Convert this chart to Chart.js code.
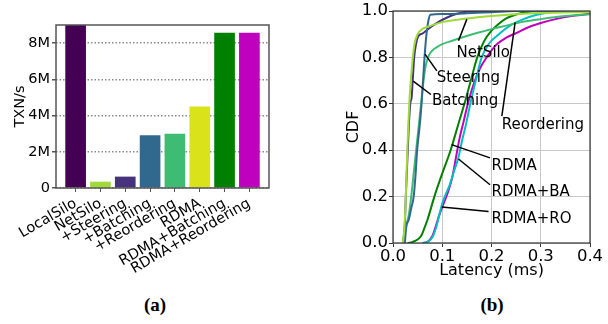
<!DOCTYPE html>
<html><head><meta charset="utf-8">
<script src="https://cdn.jsdelivr.net/npm/chart.js@4.4.0/dist/chart.umd.min.js"></script>
<style>
body{margin:0;background:#fff;width:608px;height:324px;position:relative;overflow:hidden}
#wa{position:absolute;left:0;top:0;width:300px;height:290px}
#wb{position:absolute;left:300px;top:0;width:308px;height:290px}
.cap{position:absolute;top:294px;font:bold 19px "Liberation Serif","DejaVu Serif",serif;color:#000;width:40px;text-align:center}
</style></head>
<body>
<div id="wa"><canvas id="ca" width="300" height="290"></canvas></div>
<div id="wb"><canvas id="cb" width="308" height="290"></canvas></div>
<div class="cap" style="left:135px">(a)</div>
<div class="cap" style="left:472px">(b)</div>
<script>
// ---- (a) throughput bars ----
const barCategories = ['LocalSilo','NetSilo','+Steering','+Batching','+Reordering','RDMA','RDMA+Batching','RDMA+Reordering'];
const barValues = [9.2e6, 0.33e6, 0.61e6, 2.9e6, 2.98e6, 4.48e6, 8.55e6, 8.55e6];
const barColors = ['#440154','#a0da39','#46337e','#31688e','#3fbc73','#dae319','#008000','#bf00bf'];
const yTicksA = [0, 2e6, 4e6, 6e6, 8e6];
const yTickLabelsA = ['0','2M','4M','6M','8M'];

// ---- (b) latency CDFs: [latency ms, cdf] ----
const cdfNetSilo = [[0.020,0],[0.023,0.06],[0.026,0.2],[0.029,0.4],[0.033,0.6],[0.038,0.75],[0.043,0.85],[0.05,0.9],[0.058,0.92],[0.075,0.935],[0.1,0.952],[0.13,0.962],[0.16,0.97],[0.2,0.978],[0.25,0.986],[0.3,0.991],[0.4,0.996]];
const cdfBatching = [[0.021,0],[0.024,0.08],[0.026,0.2],[0.029,0.35],[0.032,0.5],[0.035,0.6],[0.038,0.63],[0.04,0.7],[0.043,0.8],[0.047,0.86],[0.051,0.89],[0.06,0.903],[0.075,0.928],[0.09,0.95],[0.11,0.972],[0.13,0.988],[0.15,0.997],[0.2,1.0],[0.4,1.0]];
const cdfSteering = [[0.024,0],[0.027,0.07],[0.032,0.1],[0.037,0.15],[0.042,0.2],[0.046,0.3],[0.049,0.4],[0.054,0.5],[0.058,0.6],[0.061,0.7],[0.064,0.8],[0.068,0.9],[0.072,0.96],[0.076,0.984],[0.1,0.987],[0.15,0.99],[0.2,0.995],[0.25,1.0],[0.4,1.0]];
const cdfReordering = [[0.02,0],[0.023,0.05],[0.027,0.08],[0.032,0.12],[0.037,0.2],[0.042,0.3],[0.047,0.4],[0.052,0.5],[0.057,0.6],[0.062,0.7],[0.067,0.77],[0.073,0.81],[0.08,0.83],[0.09,0.845],[0.1,0.857],[0.12,0.872],[0.143,0.888],[0.17,0.905],[0.2,0.922],[0.23,0.937],[0.26,0.952],[0.3,0.965],[0.35,0.978],[0.4,0.986]];
const cdfRDMA = [[0.03,0],[0.04,0.005],[0.05,0.015],[0.057,0.03],[0.063,0.06],[0.07,0.1],[0.084,0.2],[0.1,0.3],[0.117,0.4],[0.131,0.5],[0.145,0.6],[0.158,0.7],[0.171,0.8],[0.185,0.87],[0.2,0.915],[0.215,0.945],[0.23,0.968],[0.25,0.985],[0.27,0.995],[0.29,1.0],[0.4,1.0]];
const cdfRDMABA = [[0.06,0],[0.07,0.005],[0.08,0.025],[0.088,0.07],[0.095,0.13],[0.1,0.17],[0.107,0.21],[0.115,0.25],[0.124,0.31],[0.133,0.37],[0.14,0.44],[0.147,0.5],[0.157,0.6],[0.168,0.7],[0.18,0.8],[0.195,0.86],[0.215,0.9],[0.24,0.94],[0.265,0.965],[0.29,0.983],[0.32,0.995],[0.35,1.0],[0.4,1.0]];
const cdfRDMARO = [[0.06,0],[0.07,0.005],[0.08,0.03],[0.088,0.08],[0.094,0.12],[0.1,0.155],[0.11,0.21],[0.12,0.28],[0.128,0.37],[0.135,0.45],[0.143,0.52],[0.152,0.6],[0.163,0.68],[0.176,0.75],[0.19,0.8],[0.21,0.855],[0.23,0.885],[0.25,0.905],[0.275,0.93],[0.3,0.948],[0.33,0.965],[0.366,0.979],[0.4,0.988]];
const cdfSeries = [cdfNetSilo, cdfSteering, cdfBatching, cdfReordering, cdfRDMA, cdfRDMABA, cdfRDMARO];
const cdfNames = ['NetSilo','Steering','Batching','Reordering','RDMA','RDMA+BA','RDMA+RO'];
const cdfColors = ['#a0da39','#31688e','#46337e','#3fbc73','#008000','#00bfbf','#bf00bf'];
const xTicksB = [0, 0.1, 0.2, 0.3, 0.4];
const yTicksB = [0, 0.2, 0.4, 0.6, 0.8, 1.0];

// annotation labels (data coords) and pointer segments
const noteText = ['NetSilo','Steering','Batching','Reordering','RDMA','RDMA+BA','RDMA+RO'];
const noteX = [0.129, 0.089, 0.079, 0.221, 0.2, 0.2, 0.2];
const noteY = [0.818, 0.71, 0.613, 0.506, 0.333, 0.219, 0.104];
const ptrFromX = [0.133, 0.065, 0.041, 0.221, 0.119, 0.133, 0.099];
const ptrFromY = [0.872, 0.814, 0.698, 0.547, 0.424, 0.362, 0.155];
const ptrToX = [0.15, 0.089, 0.077, 0.248, 0.197, 0.197, 0.194];
const ptrToY = [0.965, 0.742, 0.64, 0.951, 0.367, 0.251, 0.136];

Chart.defaults.font.family = '"DejaVu Sans", sans-serif';
Chart.defaults.font.size = 14;
Chart.defaults.color = '#000';

function framePlugin(color, width) {
  return { id: 'frame', afterDatasetsDraw(chart) {
    const a = chart.chartArea, c = chart.ctx;
    c.save(); c.strokeStyle = color; c.lineWidth = width;
    c.strokeRect(a.left, a.top, a.right - a.left, a.bottom - a.top);
    c.restore();
  }};
}

new Chart(document.getElementById('ca'), {
  type: 'bar',
  data: { datasets: [{
    data: barValues.map((v, i) => ({ x: i, y: v })),
    backgroundColor: barColors, borderWidth: 0, barThickness: 20
  }]},
  options: {
    responsive: false, animation: false, devicePixelRatio: 1,
    layout: { padding: { top: 25, right: 31, left: 0, bottom: 0 } },
    plugins: { legend: { display: false }, tooltip: { enabled: false } },
    scales: {
      x: { type: 'linear', min: -0.79, max: 7.79, offset: false,
        afterBuildTicks: s => { s.ticks = barCategories.map((_, i) => ({ value: i })); },
        afterFit: s => { s.height = 102; },
        ticks: { autoSkip: false, minRotation: 30, maxRotation: 30, padding: 3,
          font: { size: 14.5 }, callback: (v, i) => barCategories[i] },
        grid: { drawOnChartArea: false, offset: false, tickLength: 4, tickColor: '#555' },
        border: { display: false }
      },
      y: { min: 0, max: 9e6,
        afterBuildTicks: s => { s.ticks = yTicksA.map(v => ({ value: v })); },
        afterFit: s => { s.width = 56; },
        ticks: { padding: 2, font: { size: 14.5 }, callback: (v, i) => yTickLabelsA[i] },
        grid: { color: '#8a8a8a', lineWidth: 1.5, tickLength: 4, tickColor: '#555' },
        border: { display: false, dash: [1.5, 2] },
        title: { display: true, text: 'TXN/s', font: { size: 14.5 }, padding: { top: 12, bottom: 0 } }
      }
    }
  },
  plugins: [framePlugin('#555', 1.5)]
});

const notePlugin = { id: 'notes', afterDatasetsDraw(chart) {
  const c = chart.ctx, sx = chart.scales.x, sy = chart.scales.y;
  c.save();
  c.strokeStyle = '#000'; c.lineWidth = 1.5;
  for (let i = 0; i < noteText.length; i++) {
    c.beginPath();
    c.moveTo(sx.getPixelForValue(ptrFromX[i]), sy.getPixelForValue(ptrFromY[i]));
    c.lineTo(sx.getPixelForValue(ptrToX[i]), sy.getPixelForValue(ptrToY[i]));
    c.stroke();
  }
  c.fillStyle = '#000'; c.font = '15px "DejaVu Sans", sans-serif';
  c.textAlign = 'left'; c.textBaseline = 'middle';
  for (let i = 0; i < noteText.length; i++) {
    c.fillText(noteText[i], sx.getPixelForValue(noteX[i]), sy.getPixelForValue(noteY[i]));
  }
  c.restore();
}};

new Chart(document.getElementById('cb'), {
  type: 'line',
  data: { datasets: cdfSeries.map((s, k) => ({
    label: cdfNames[k],
    data: s.map(p => ({ x: p[0], y: p[1] })),
    borderColor: cdfColors[k], borderWidth: 2, pointRadius: 0,
    cubicInterpolationMode: 'monotone', fill: false
  }))},
  options: {
    responsive: false, animation: false, devicePixelRatio: 1,
    layout: { padding: { top: 11, right: 18, left: 0, bottom: 0 } },
    plugins: { legend: { display: false }, tooltip: { enabled: false } },
    scales: {
      x: { type: 'linear', min: 0, max: 0.4,
        afterBuildTicks: s => { s.ticks = xTicksB.map(v => ({ value: v })); },
        afterFit: s => { s.height = 47; },
        ticks: { padding: 0, maxRotation: 0, font: { size: 16.5 }, callback: v => v.toFixed(1) },
        grid: { color: '#c8c8c8', tickLength: 4, tickColor: '#333' },
        border: { display: false },
        title: { display: true, text: 'Latency (ms)', font: { size: 16 }, padding: { top: 0, bottom: 10 } }
      },
      y: { min: 0, max: 1,
        afterBuildTicks: s => { s.ticks = yTicksB.map(v => ({ value: v })); },
        afterFit: s => { s.width = 93; },
        ticks: { padding: 1, font: { size: 16.5 }, callback: v => v.toFixed(1) },
        grid: { color: '#c8c8c8', tickLength: 4, tickColor: '#333' },
        border: { display: false },
        title: { display: true, text: 'CDF', font: { size: 16 }, padding: { top: 44, bottom: 0 } }
      }
    }
  },
  plugins: [framePlugin('#333', 1.2), notePlugin]
});
</script>
</body></html>
